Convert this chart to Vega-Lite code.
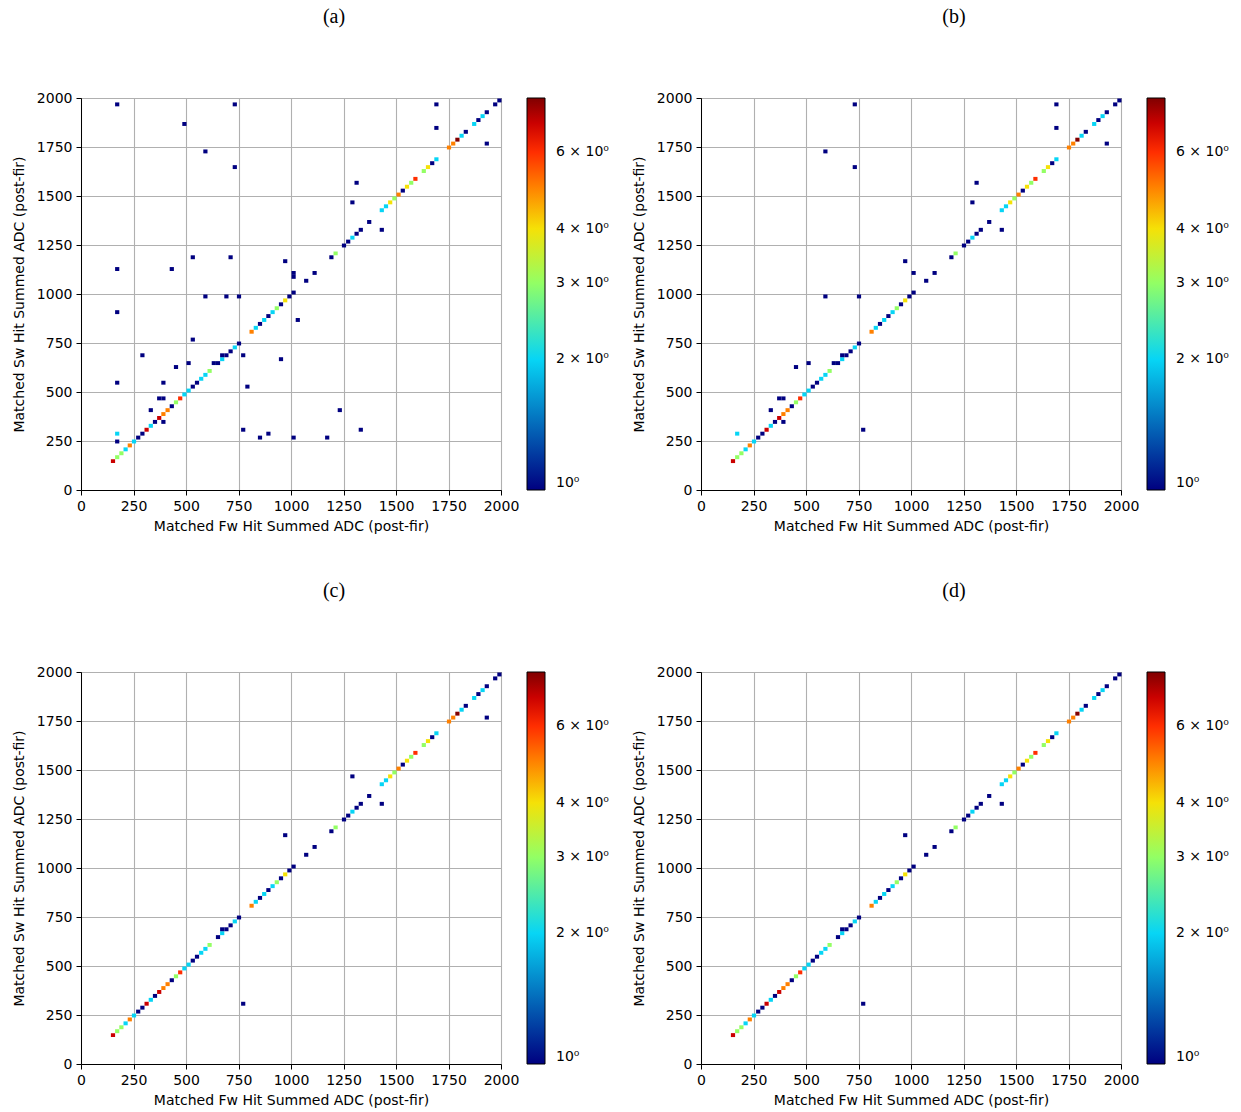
{
  "$schema": "https://vega.github.io/schema/vega-lite/v6.json",
  "padding": {"left": 11, "top": 6, "right": 5, "bottom": 2},
  "background": "white",
  "datasets": {
    "diag": [
      {"x":150,"y":150,"n":7},{"x":170,"y":170,"n":3},{"x":190,"y":190,"n":3},{"x":210,"y":210,"n":2},{"x":230,"y":230,"n":5},
      {"x":250,"y":250,"n":2},{"x":270,"y":270,"n":1},{"x":290,"y":290,"n":1},{"x":310,"y":310,"n":7},{"x":330,"y":330,"n":2},
      {"x":350,"y":350,"n":1},{"x":370,"y":370,"n":7},{"x":390,"y":390,"n":5},{"x":410,"y":410,"n":5},{"x":430,"y":430,"n":1},
      {"x":450,"y":450,"n":3},{"x":470,"y":470,"n":6},{"x":490,"y":490,"n":2},{"x":510,"y":510,"n":2},{"x":530,"y":530,"n":1},
      {"x":550,"y":550,"n":1},{"x":570,"y":570,"n":2},{"x":590,"y":590,"n":2},{"x":610,"y":610,"n":3},{"x":650,"y":650,"n":1},
      {"x":670,"y":670,"n":2},{"x":690,"y":690,"n":1},{"x":710,"y":710,"n":1},{"x":730,"y":730,"n":2},{"x":750,"y":750,"n":1},
      {"x":810,"y":810,"n":5},{"x":830,"y":830,"n":2},{"x":850,"y":850,"n":1},{"x":870,"y":870,"n":2},{"x":890,"y":890,"n":1},
      {"x":910,"y":910,"n":2},{"x":930,"y":930,"n":3},{"x":950,"y":950,"n":1},{"x":970,"y":970,"n":4},{"x":990,"y":990,"n":1},
      {"x":1010,"y":1010,"n":1},{"x":1070,"y":1070,"n":1},{"x":1110,"y":1110,"n":1},{"x":1190,"y":1190,"n":1},{"x":1210,"y":1210,"n":3},
      {"x":1250,"y":1250,"n":1},{"x":1270,"y":1270,"n":1},{"x":1290,"y":1290,"n":2},{"x":1310,"y":1310,"n":1},{"x":1330,"y":1330,"n":1},
      {"x":1370,"y":1370,"n":1},{"x":1430,"y":1430,"n":2},{"x":1450,"y":1450,"n":2},{"x":1470,"y":1470,"n":4},{"x":1490,"y":1490,"n":3},
      {"x":1510,"y":1510,"n":5},{"x":1530,"y":1530,"n":1},{"x":1550,"y":1550,"n":4},{"x":1570,"y":1570,"n":3},{"x":1590,"y":1590,"n":6},
      {"x":1630,"y":1630,"n":3},{"x":1650,"y":1650,"n":4},{"x":1670,"y":1670,"n":1},{"x":1690,"y":1690,"n":2},{"x":1750,"y":1750,"n":5},
      {"x":1770,"y":1770,"n":5},{"x":1790,"y":1790,"n":8},{"x":1810,"y":1810,"n":2},{"x":1830,"y":1830,"n":1},{"x":1870,"y":1870,"n":2},
      {"x":1890,"y":1890,"n":1},{"x":1910,"y":1910,"n":2},{"x":1930,"y":1930,"n":1},{"x":1970,"y":1970,"n":1},{"x":1990,"y":1990,"n":1}
    ],
    "off_a": [
      {"x":170,"y":1970,"n":1},{"x":730,"y":1970,"n":1},{"x":490,"y":1870,"n":1},{"x":590,"y":1730,"n":1},{"x":730,"y":1650,"n":1},
      {"x":170,"y":1130,"n":1},{"x":430,"y":1130,"n":1},{"x":530,"y":1190,"n":1},{"x":710,"y":1190,"n":1},{"x":970,"y":1170,"n":1},
      {"x":1690,"y":1970,"n":1},{"x":1690,"y":1850,"n":1},{"x":1930,"y":1770,"n":1},{"x":1310,"y":1570,"n":1},{"x":1290,"y":1470,"n":1},
      {"x":1430,"y":1330,"n":1},{"x":1010,"y":1090,"n":1},{"x":1010,"y":1110,"n":1},{"x":170,"y":910,"n":1},{"x":170,"y":550,"n":1},
      {"x":170,"y":250,"n":1},{"x":170,"y":290,"n":2},{"x":290,"y":690,"n":1},{"x":390,"y":550,"n":1},{"x":370,"y":470,"n":1},
      {"x":390,"y":470,"n":1},{"x":330,"y":410,"n":1},{"x":390,"y":350,"n":1},{"x":450,"y":630,"n":1},{"x":510,"y":650,"n":1},
      {"x":530,"y":770,"n":1},{"x":630,"y":650,"n":1},{"x":670,"y":690,"n":1},{"x":770,"y":690,"n":1},{"x":790,"y":530,"n":1},
      {"x":950,"y":670,"n":1},{"x":590,"y":990,"n":1},{"x":690,"y":990,"n":1},{"x":750,"y":990,"n":1},{"x":770,"y":310,"n":1},
      {"x":850,"y":270,"n":1},{"x":890,"y":290,"n":1},{"x":1010,"y":270,"n":1},{"x":1030,"y":870,"n":1},{"x":1230,"y":410,"n":1},
      {"x":1170,"y":270,"n":1},{"x":1330,"y":310,"n":1}
    ],
    "off_b": [
      {"x":730,"y":1970,"n":1},{"x":1690,"y":1970,"n":1},{"x":1690,"y":1850,"n":1},{"x":1930,"y":1770,"n":1},{"x":590,"y":1730,"n":1},
      {"x":730,"y":1650,"n":1},{"x":1310,"y":1570,"n":1},{"x":1290,"y":1470,"n":1},{"x":1430,"y":1330,"n":1},{"x":970,"y":1170,"n":1},
      {"x":1010,"y":1110,"n":1},{"x":590,"y":990,"n":1},{"x":750,"y":990,"n":1},{"x":450,"y":630,"n":1},{"x":510,"y":650,"n":1},
      {"x":370,"y":470,"n":1},{"x":390,"y":470,"n":1},{"x":330,"y":410,"n":1},{"x":390,"y":350,"n":1},{"x":170,"y":290,"n":2},
      {"x":770,"y":310,"n":1},{"x":630,"y":650,"n":1},{"x":670,"y":690,"n":1}
    ],
    "off_c": [
      {"x":670,"y":690,"n":1},{"x":770,"y":310,"n":1},{"x":970,"y":1170,"n":1},{"x":1290,"y":1470,"n":1},{"x":1430,"y":1330,"n":1},
      {"x":1930,"y":1770,"n":1}
    ],
    "off_d": [
      {"x":670,"y":690,"n":1},{"x":770,"y":310,"n":1},{"x":970,"y":1170,"n":1},{"x":1430,"y":1330,"n":1}
    ]
  },
  "config": {
    "font": "DejaVu Sans",
    "view": {"stroke": "black", "strokeWidth": 1},
    "axis": {
      "labelFont": "DejaVu Sans", "labelFontSize": 14, "labelColor": "black",
      "titleFont": "DejaVu Sans", "titleFontSize": 14, "titleFontWeight": "normal", "titleColor": "black",
      "tickColor": "black", "tickSize": 5, "tickWidth": 1, "labelPadding": 4,
      "domainColor": "black", "domainWidth": 1,
      "grid": true, "gridColor": "#b0b0b0", "gridWidth": 1.1,
      "zindex": 1, "labelFlush": false, "titlePadding": 6
    },
    "axisY": {"titlePadding": 10},
    "title": {"font": "Liberation Serif", "fontSize": 20, "fontWeight": "normal", "color": "black", "anchor": "middle", "frame": "group", "baseline": "alphabetic", "offset": 64, "dx": 43}
  },
  "resolve": {"scale": {"color": "independent"}, "legend": {"color": "independent"}},
  "spacing": 46,
  "vconcat": [
    {
      "spacing": 21,
      "resolve": {"scale": {"color": "independent"}, "legend": {"color": "independent"}},
      "hconcat": [
        {
          "title": "(a)",
          "width": 420, "height": 392,
          "encoding": {
            "x": {"field": "x", "type": "quantitative", "bin": {"extent": [0, 2000], "step": 20}, "scale": {"domain": [0, 2000]}, "axis": {"values": [0,250,500,750,1000,1250,1500,1750,2000], "title": "Matched Fw Hit Summed ADC (post-fir)", "format": "d"}},
            "y": {"field": "y", "type": "quantitative", "bin": {"extent": [0, 2000], "step": 20}, "scale": {"domain": [0, 2000]}, "axis": {"values": [0,250,500,750,1000,1250,1500,1750,2000], "title": "Matched Sw Hit Summed ADC (post-fir)", "format": "d"}},
            "color": {"field": "n", "type": "quantitative",
              "scale": {"type": "log", "domain": [1, 8], "interpolate": "rgb", "range": ["#000080","#0000c8","#0000ff","#0040ff","#0080ff","#00c0ff","#15ffe2","#48ffaf","#7bff7b","#afff48","#e2ff15","#ffd200","#ff9700","#ff5c00","#ff2100","#c80000","#800000"]},
              "legend": {"title": null, "type": "gradient", "direction": "vertical", "gradientLength": 392, "gradientThickness": 18, "offset": 26, "padding": 0, "values": [1,2,3,4,6], "labelExpr": "datum.value == 1 ? '10⁰' : datum.value + ' × 10⁰'", "labelFont": "DejaVu Sans", "labelFontSize": 14, "labelColor": "black", "labelOffset": 11, "labelOverlap": false, "gradientStrokeColor": "black", "gradientStrokeWidth": 1}}
          },
          "layer": [
            {"data": {"name": "diag"}, "mark": {"type": "rect"}},
            {"data": {"name": "off_a"}, "mark": {"type": "rect"}}
          ]
        },
        {
          "title": "(b)",
          "width": 420, "height": 392,
          "encoding": {
            "x": {"field": "x", "type": "quantitative", "bin": {"extent": [0, 2000], "step": 20}, "scale": {"domain": [0, 2000]}, "axis": {"values": [0,250,500,750,1000,1250,1500,1750,2000], "title": "Matched Fw Hit Summed ADC (post-fir)", "format": "d"}},
            "y": {"field": "y", "type": "quantitative", "bin": {"extent": [0, 2000], "step": 20}, "scale": {"domain": [0, 2000]}, "axis": {"values": [0,250,500,750,1000,1250,1500,1750,2000], "title": "Matched Sw Hit Summed ADC (post-fir)", "format": "d"}},
            "color": {"field": "n", "type": "quantitative",
              "scale": {"type": "log", "domain": [1, 8], "interpolate": "rgb", "range": ["#000080","#0000c8","#0000ff","#0040ff","#0080ff","#00c0ff","#15ffe2","#48ffaf","#7bff7b","#afff48","#e2ff15","#ffd200","#ff9700","#ff5c00","#ff2100","#c80000","#800000"]},
              "legend": {"title": null, "type": "gradient", "direction": "vertical", "gradientLength": 392, "gradientThickness": 18, "offset": 26, "padding": 0, "values": [1,2,3,4,6], "labelExpr": "datum.value == 1 ? '10⁰' : datum.value + ' × 10⁰'", "labelFont": "DejaVu Sans", "labelFontSize": 14, "labelColor": "black", "labelOffset": 11, "labelOverlap": false, "gradientStrokeColor": "black", "gradientStrokeWidth": 1}}
          },
          "layer": [
            {"data": {"name": "diag"}, "mark": {"type": "rect"}},
            {"data": {"name": "off_b"}, "mark": {"type": "rect"}}
          ]
        }
      ]
    },
    {
      "spacing": 21,
      "resolve": {"scale": {"color": "independent"}, "legend": {"color": "independent"}},
      "hconcat": [
        {
          "title": "(c)",
          "width": 420, "height": 392,
          "encoding": {
            "x": {"field": "x", "type": "quantitative", "bin": {"extent": [0, 2000], "step": 20}, "scale": {"domain": [0, 2000]}, "axis": {"values": [0,250,500,750,1000,1250,1500,1750,2000], "title": "Matched Fw Hit Summed ADC (post-fir)", "format": "d"}},
            "y": {"field": "y", "type": "quantitative", "bin": {"extent": [0, 2000], "step": 20}, "scale": {"domain": [0, 2000]}, "axis": {"values": [0,250,500,750,1000,1250,1500,1750,2000], "title": "Matched Sw Hit Summed ADC (post-fir)", "format": "d"}},
            "color": {"field": "n", "type": "quantitative",
              "scale": {"type": "log", "domain": [1, 8], "interpolate": "rgb", "range": ["#000080","#0000c8","#0000ff","#0040ff","#0080ff","#00c0ff","#15ffe2","#48ffaf","#7bff7b","#afff48","#e2ff15","#ffd200","#ff9700","#ff5c00","#ff2100","#c80000","#800000"]},
              "legend": {"title": null, "type": "gradient", "direction": "vertical", "gradientLength": 392, "gradientThickness": 18, "offset": 26, "padding": 0, "values": [1,2,3,4,6], "labelExpr": "datum.value == 1 ? '10⁰' : datum.value + ' × 10⁰'", "labelFont": "DejaVu Sans", "labelFontSize": 14, "labelColor": "black", "labelOffset": 11, "labelOverlap": false, "gradientStrokeColor": "black", "gradientStrokeWidth": 1}}
          },
          "layer": [
            {"data": {"name": "diag"}, "mark": {"type": "rect"}},
            {"data": {"name": "off_c"}, "mark": {"type": "rect"}}
          ]
        },
        {
          "title": "(d)",
          "width": 420, "height": 392,
          "encoding": {
            "x": {"field": "x", "type": "quantitative", "bin": {"extent": [0, 2000], "step": 20}, "scale": {"domain": [0, 2000]}, "axis": {"values": [0,250,500,750,1000,1250,1500,1750,2000], "title": "Matched Fw Hit Summed ADC (post-fir)", "format": "d"}},
            "y": {"field": "y", "type": "quantitative", "bin": {"extent": [0, 2000], "step": 20}, "scale": {"domain": [0, 2000]}, "axis": {"values": [0,250,500,750,1000,1250,1500,1750,2000], "title": "Matched Sw Hit Summed ADC (post-fir)", "format": "d"}},
            "color": {"field": "n", "type": "quantitative",
              "scale": {"type": "log", "domain": [1, 8], "interpolate": "rgb", "range": ["#000080","#0000c8","#0000ff","#0040ff","#0080ff","#00c0ff","#15ffe2","#48ffaf","#7bff7b","#afff48","#e2ff15","#ffd200","#ff9700","#ff5c00","#ff2100","#c80000","#800000"]},
              "legend": {"title": null, "type": "gradient", "direction": "vertical", "gradientLength": 392, "gradientThickness": 18, "offset": 26, "padding": 0, "values": [1,2,3,4,6], "labelExpr": "datum.value == 1 ? '10⁰' : datum.value + ' × 10⁰'", "labelFont": "DejaVu Sans", "labelFontSize": 14, "labelColor": "black", "labelOffset": 11, "labelOverlap": false, "gradientStrokeColor": "black", "gradientStrokeWidth": 1}}
          },
          "layer": [
            {"data": {"name": "diag"}, "mark": {"type": "rect"}},
            {"data": {"name": "off_d"}, "mark": {"type": "rect"}}
          ]
        }
      ]
    }
  ]
}
